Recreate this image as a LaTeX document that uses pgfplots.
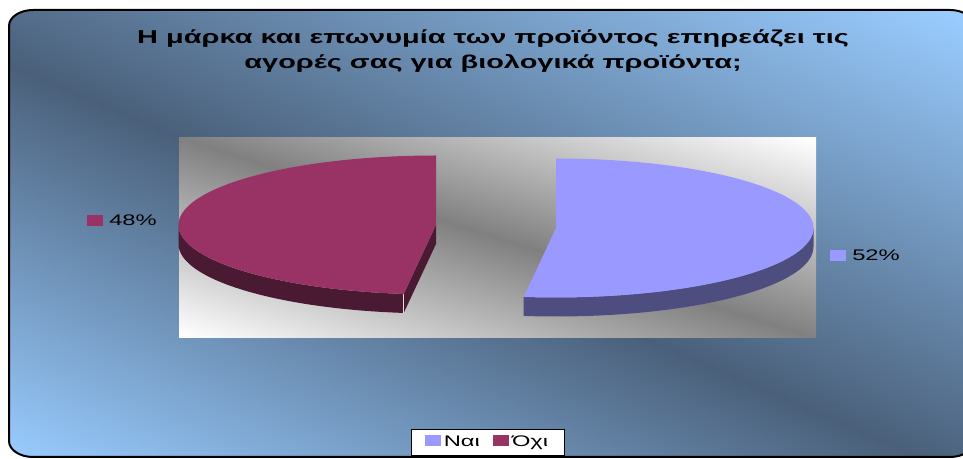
\documentclass[border=0pt]{standalone}
\usepackage{pgfplots}
\pgfplotsset{compat=1.18}
\usepackage{fontspec}
\setmainfont{Liberation Sans}[FakeStretch=1.55]
\definecolor{bgDark}{HTML}{4A607A}
\definecolor{bgLight}{HTML}{99CCFF}
\definecolor{naiTop}{HTML}{9999FF}
\definecolor{naiSide}{HTML}{4D4D80}
\definecolor{oxiTop}{HTML}{993366}
\definecolor{oxiSide}{HTML}{4A1A33}
\definecolor{paGray}{HTML}{808080}
\pgfdeclareverticalshading{bgsh}{100bp}{color(0bp)=(bgLight); color(17bp)=(bgLight); color(47bp)=(bgDark); color(82bp)=(bgLight); color(100bp)=(bgLight)}
\pgfdeclareverticalshading{pash}{100bp}{color(0bp)=(white); color(19bp)=(white); color(50bp)=(paGray); color(81bp)=(white); color(100bp)=(white)}
% data (percent)
\def\pNai{52}
\def\pOxi{48}
\pgfmathsetmacro{\aNai}{90-3.6*\pNai}
\pgfmathsetmacro{\aOxi}{90+3.6*\pOxi}
% 3D pie geometry (px units, 1px = 0.75pt)
\def\ra{257.5}
\def\rb{69.5}
\def\th{19}
\def\raPt{193.125pt}
\def\rbPt{52.125pt}
\def\oxX{436}\def\oxY{234}
\def\naX{556}\def\naY{231}
\pgfmathsetmacro{\oEx}{\oxX+\ra*cos(\aOxi)}
\pgfmathsetmacro{\oEy}{\oxY+\rb*sin(\aOxi)}
\pgfmathsetmacro{\oEyB}{\oEy-\th}
\pgfmathsetmacro{\oCyB}{\oxY-\th}
\pgfmathsetmacro{\nRx}{\naX+\ra}
\pgfmathsetmacro{\nRyB}{\naY-\th}
\begin{document}
\begin{tikzpicture}[x=0.75pt,y=0.75pt]
\useasboundingbox (0,0) rectangle (963,459);
\clip (0,0) rectangle (963,459);
\fill[white] (0,0) rectangle (963,459);
\shade[shading=bgsh, shading angle=-23.3]
 (9,18) -- (9,433) arc[start angle=180,end angle=90,x radius=18pt,y radius=12pt]
 -- (950,449) arc[start angle=90,end angle=0,x radius=18pt,y radius=12pt]
 -- (974,18) arc[start angle=0,end angle=-90,x radius=18pt,y radius=12pt]
 -- (33,2) arc[start angle=270,end angle=180,x radius=18pt,y radius=12pt] -- cycle;
\draw[line width=1.5pt]
 (9,18) -- (9,433) arc[start angle=180,end angle=90,x radius=18pt,y radius=12pt]
 -- (950,449) arc[start angle=90,end angle=0,x radius=18pt,y radius=12pt]
 -- (974,18) arc[start angle=0,end angle=-90,x radius=18pt,y radius=12pt]
 -- (33,2) arc[start angle=270,end angle=180,x radius=18pt,y radius=12pt] -- cycle;
\shade[shading=pash, shading angle=-17.5] (179,121) rectangle (816,321);
\begin{axis}[at={(0pt,0pt)}, anchor=south west,
  width=722.25pt, height=344.25pt, scale only axis,
  xmin=0, xmax=963, ymin=0, ymax=459,
  hide axis, clip=false,
  title={Η μάρκα και επωνυμία των προϊόντος επηρεάζει τις\\αγορές σας για βιολογικά προϊόντα;},
  title style={at={(0.51194,0.83333)}, anchor=base, yshift=0pt, align=center, inner sep=0pt,
    font=\bfseries\fontsize{14}{18.75}\selectfont},
  legend image code/.code={\fill[#1] (0pt,-2.25pt) rectangle (12pt,6pt);},
  legend style={at={(0.50675,0.065359)}, anchor=north, draw=black, line width=0.75pt,
    fill=white, inner xsep=10pt, inner ysep=3pt, legend columns=2,
    font=\fontsize{11.5}{13}\selectfont,
    /tikz/every even column/.append style={column sep=8pt}},
]
% ---- Oxi slice (exploded left)
\addplot[fill=oxiSide, draw=none, forget plot] coordinates {(\oxX,\oxY) (\oEx,\oEy) (\oEx,\oEyB) (\oxX,\oCyB)} -- cycle;
\addplot[fill=oxiSide, draw=none, forget plot, domain=180:\aOxi, samples=60]
  ({\oxX+\ra*cos(x)},{\oxY+\rb*sin(x)}) -- (axis cs:\oEx,\oEyB)
  arc[start angle=\aOxi, end angle=180, x radius=\raPt, y radius=\rbPt] -- cycle;
\addplot[fill=oxiTop, draw=none, forget plot, domain=90:\aOxi, samples=120]
  ({\oxX+\ra*cos(x)},{\oxY+\rb*sin(x)}) -- (axis cs:\oxX,\oxY) -- cycle;
\draw[white!75!gray, line width=0.7pt] (axis cs:\oEx,\oEy) -- (axis cs:\oEx,\oEyB);
% ---- Nai slice (exploded right)
\addplot[fill=naiSide, draw=none, forget plot, domain=\aNai:0, samples=60]
  ({\naX+\ra*cos(x)},{\naY+\rb*sin(x)}) -- (axis cs:\nRx,\nRyB)
  arc[start angle=0, end angle=\aNai, x radius=\raPt, y radius=\rbPt] -- cycle;
\addplot[fill=naiTop, draw=none, forget plot, domain=\aNai:90, samples=120]
  ({\naX+\ra*cos(x)},{\naY+\rb*sin(x)}) -- (axis cs:\naX,\naY) -- cycle;
% ---- data labels
\fill[oxiTop] (axis cs:87,233) rectangle (axis cs:103,244);
\node[anchor=base west, inner sep=0pt, font=\fontsize{11.5}{13}\selectfont] at (axis cs:109,233) {\pOxi\%};
\fill[naiTop] (axis cs:830,198) rectangle (axis cs:846,209);
\node[anchor=base west, inner sep=0pt, font=\fontsize{11.5}{13}\selectfont] at (axis cs:852,198) {\pNai\%};
% ---- legend
\addlegendimage{fill=naiTop, draw=none}\addlegendentry{Ναι}
\addlegendimage{fill=oxiTop, draw=none}\addlegendentry{Όχι}
\end{axis}
\end{tikzpicture}
\end{document}
